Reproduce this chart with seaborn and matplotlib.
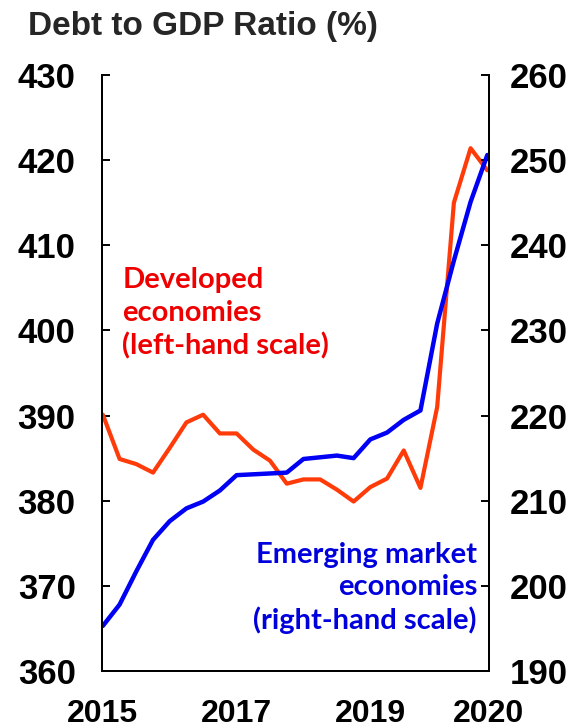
import numpy as np
import pandas as pd
import matplotlib
matplotlib.use("Agg")
import matplotlib.pyplot as plt
import seaborn as sns

# Quarterly data, 2015 Q1 to 2020 Q4
quarters = list(range(24))
developed = [390.1, 384.9, 384.3, 383.3, 386.2, 389.2, 390.1, 387.9,
             387.9, 386.0, 384.7, 382.0, 382.5, 382.5, 381.3, 379.9,
             381.6, 382.6, 385.9, 381.5, 391.0, 415.0, 421.4, 418.8]
emerging = [195.3, 197.8, 201.7, 205.4, 207.6, 209.1, 209.9, 211.2,
            213.0, 213.1, 213.2, 213.3, 214.9, 215.1, 215.3, 215.0,
            217.2, 218.0, 219.5, 220.6, 230.8, 238.2, 245.1, 250.6]
year_ticks = [0, 8, 16, 23.1]
year_labels = ['2015', '2017', '2019', '2020']
left_ticks = [360, 370, 380, 390, 400, 410, 420, 430]
right_ticks = [190, 200, 210, 220, 230, 240, 250, 260]

df = pd.DataFrame({'q': quarters, 'dev': developed, 'em': emerging})

sns.set_style('white')
plt.rcParams['font.family'] = ['Liberation Sans', 'DejaVu Sans']

fig = plt.figure(figsize=(5.78, 7.28), dpi=100)
ax = fig.add_axes([0.1765, 0.0783, 0.8460 - 0.1765, 0.897 - 0.0783])
ax2 = ax.twinx()

red = '#FF3B0A'
blue = '#0000F5'
sns.lineplot(data=df, x='q', y='dev', ax=ax, color=red, linewidth=3.0)
sns.lineplot(data=df, x='q', y='em', ax=ax2, color=blue, linewidth=3.2)

ax.set_xlim(-0.05, 23.1)
ax.set_ylim(360, 430)
ax2.set_ylim(190, 260)
ax.set_xticks(year_ticks)
ax.set_xticklabels(year_labels)
ax.set_yticks(left_ticks)
ax2.set_yticks(right_ticks)
ax.set_xlabel('')
ax.set_ylabel('')
ax2.set_ylabel('')

for a in (ax, ax2):
    for s in a.spines.values():
        s.set_color('black')
        s.set_linewidth(1.4)
    a.spines['top'].set_visible(False)
    a.grid(False)

ax.tick_params(axis='y', direction='in', length=6, width=1.4, pad=19,
               labelsize=25, colors='black')
ax.tick_params(axis='x', direction='in', length=6, width=1.4, pad=20,
               labelsize=23, colors='black')
ax2.tick_params(axis='y', direction='in', length=6, width=1.4, pad=15,
                labelsize=25, colors='black')
for lab in ax.get_xticklabels() + ax.get_yticklabels() + ax2.get_yticklabels():
    lab.set_fontweight('bold')

fig.text(0.048, 0.963, 'Debt to GDP Ratio (%)', fontsize=24, fontweight='bold',
         ha='left', va='center')

ax.text(0.052, 0.60, 'Developed\neconomies\n(left-hand scale)',
        transform=ax.transAxes, color='#EE0000', fontsize=21,
        fontweight='bold', family=['Lato', 'DejaVu Sans'],
        ha='left', va='center', linespacing=1.3)
ax.text(0.969, 0.139, 'Emerging market\neconomies\n(right-hand scale)',
        transform=ax.transAxes, color='#0000DD', fontsize=21,
        fontweight='bold', family=['Lato', 'DejaVu Sans'],
        ha='right', va='center', linespacing=1.3, zorder=5)

fig.savefig('out.png', dpi=100)
